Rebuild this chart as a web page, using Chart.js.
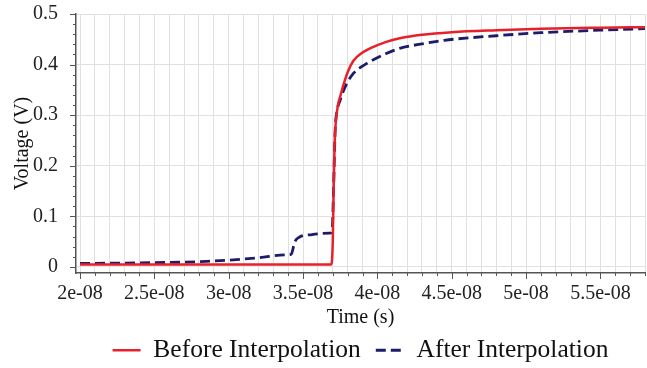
<!DOCTYPE html>
<html>
<head>
<meta charset="utf-8">
<script src="https://cdn.jsdelivr.net/npm/chart.js@4.4.1/dist/chart.umd.min.js"></script>
<style>
html, body { margin: 0; padding: 0; background: #fff; }
#wrap { width: 647px; height: 368px; }
</style>
</head>
<body>
<div id="wrap"><canvas id="chart"></canvas></div>
<script>
// time in seconds, voltage in volts
const beforeTime = [2.0e-8, 2.5e-8, 3.0e-8, 3.5e-8, 3.69e-8, 3.700e-8, 3.705e-8, 3.712e-8, 3.72e-8, 3.735e-8, 3.75e-8, 3.772e-8, 3.80e-8, 3.84e-8, 3.90e-8, 3.95e-8, 4.06e-8, 4.15e-8, 4.3e-8, 4.5e-8, 4.8e-8, 5.1e-8, 5.5e-8, 5.8e-8];
const beforeVolt = [0.005, 0.005, 0.005, 0.005, 0.005, 0.05, 0.14, 0.24, 0.285, 0.32, 0.337, 0.36, 0.385, 0.408, 0.424, 0.432, 0.445, 0.452, 0.459, 0.464, 0.468, 0.471, 0.473, 0.474];

const afterTime = [2.0e-8, 2.4e-8, 2.85e-8, 3.2e-8, 3.38e-8, 3.42e-8, 3.445e-8, 3.47e-8, 3.56e-8, 3.68e-8, 3.695e-8, 3.705e-8, 3.716e-8, 3.73e-8, 3.75e-8, 3.77e-8, 3.795e-8, 3.84e-8, 3.90e-8, 3.95e-8, 4.06e-8, 4.15e-8, 4.3e-8, 4.45e-8, 4.8e-8, 5.1e-8, 5.5e-8, 5.8e-8];
const afterVolt = [0.007, 0.008, 0.011, 0.018, 0.024, 0.025, 0.05, 0.058, 0.064, 0.067, 0.068, 0.15, 0.27, 0.31, 0.33, 0.347, 0.363, 0.383, 0.397, 0.406, 0.422, 0.432, 0.441, 0.448, 0.457, 0.463, 0.468, 0.471];

const xTickValues = [2e-8, 2.5e-8, 3e-8, 3.5e-8, 4e-8, 4.5e-8, 5e-8, 5.5e-8];
const xTickLabels = ['2e-08', '2.5e-08', '3e-08', '3.5e-08', '4e-08', '4.5e-08', '5e-08', '5.5e-08'];
const yTickValues = [0, 0.1, 0.2, 0.3, 0.4, 0.5];
const yTickLabels = ['0', '0.1', '0.2', '0.3', '0.4', '0.5'];

const serif = 'Liberation Serif';

// minor ticks: every 1e-9 s and every 0.02 V
let xMinor = [];
for (let i = 20; i <= 58; i++) xMinor.push(i * 1e-9);
let yMinor = [];
for (let i = 0; i <= 25; i++) yMinor.push(Math.round(i * 2) / 100);

let xMajorIndex = v => xTickValues.findIndex(t => Math.abs(t - v) < 1e-12);
let yMajorIndex = v => yTickValues.findIndex(t => Math.abs(t - v) < 1e-9);

// tick marks drawn by hand so that major ticks are longer than minor ones
let tickMarks = {
	id: 'tickMarks',
	afterDraw(chart) {
		let { ctx, scales: { x, y } } = chart;
		ctx.save();
		ctx.strokeStyle = '#555';
		ctx.lineWidth = 1;
		x.ticks.forEach(t => {
			let px = Math.round(x.getPixelForValue(t.value)) + 0.5;
			let len = xMajorIndex(t.value) >= 0 ? 6 : 3;
			ctx.beginPath();
			ctx.moveTo(px, x.top);
			ctx.lineTo(px, x.top + len);
			ctx.stroke();
		});
		y.ticks.forEach(t => {
			let py = Math.round(y.getPixelForValue(t.value)) + 0.5;
			let len = yMajorIndex(t.value) >= 0 ? 6 : 3;
			ctx.beginPath();
			ctx.moveTo(y.right - len, py);
			ctx.lineTo(y.right, py);
			ctx.stroke();
		});
		ctx.restore();
	}
};

let data = {
	datasets: [{
		label: 'Before Interpolation',
		data: beforeTime.map((t, i) => ({ x: t, y: beforeVolt[i] })),
		borderColor: '#e8202a',
		backgroundColor: '#e8202a',
		borderWidth: 2.5,
		pointRadius: 0,
		cubicInterpolationMode: 'monotone'
	}, {
		label: 'After Interpolation',
		data: afterTime.map((t, i) => ({ x: t, y: afterVolt[i] })),
		borderColor: '#1c1c6a',
		backgroundColor: '#1c1c6a',
		borderWidth: 2.8,
		borderDash: [10, 5],
		pointRadius: 0,
		cubicInterpolationMode: 'monotone'
	}]
};

let config = {
	type: 'line',
	data: data,
	plugins: [tickMarks],
	options: {
		responsive: false,
		animation: false,
		layout: { padding: { top: 14, right: 2, left: 0, bottom: -5 } },
		plugins: {
			tooltip: { enabled: false },
			legend: {
				position: 'bottom',
				fullSize: false,
				labels: {
					usePointStyle: true,
					pointStyleWidth: 28,
					padding: 15,
					color: '#111',
					font: { family: serif, size: 25.5 },
					generateLabels: chart => {
						let items = Chart.defaults.plugins.legend.labels.generateLabels(chart);
						items.forEach((item, i) => {
							let ds = chart.data.datasets[i];
							item.pointStyle = 'line';
							item.strokeStyle = ds.borderColor;
							item.lineWidth = ds.borderWidth;
							item.lineDash = ds.borderDash || [];
						});
						return items;
					}
				}
			}
		},
		scales: {
			x: {
				type: 'linear',
				min: 1.973e-8,
				max: 5.8e-8,
				afterBuildTicks: s => { s.ticks = xMinor.map(v => ({ value: v })); },
				afterFit: s => { s.height = 49.5; },
				ticks: {
					autoSkip: false,
					maxRotation: 0,
					padding: 0,
					color: '#222',
					font: { family: serif, size: 20 },
					callback: v => { let i = xMajorIndex(v); return i >= 0 ? xTickLabels[i] : ''; }
				},
				grid: { color: '#e0e0e0', drawTicks: true, tickLength: 9, tickColor: 'rgba(0,0,0,0)' },
				border: { color: '#555', width: 1.5 },
				title: { display: true, text: 'Time (s)', color: '#111', font: { family: serif, size: 20 }, padding: { top: 0, bottom: -7 } }
			},
			y: {
				min: -0.012,
				max: 0.5,
				afterBuildTicks: s => { s.ticks = yMinor.map(v => ({ value: v })); },
				afterFit: s => { s.width = 76; },
				ticks: {
					autoSkip: false,
					padding: 0,
					color: '#222',
					font: { family: serif, size: 20 },
					callback: v => { let i = yMajorIndex(v); return i >= 0 ? yTickLabels[i] : ''; }
				},
				grid: {
					drawTicks: true,
					tickLength: 18,
					tickColor: 'rgba(0,0,0,0)',
					color: c => (c.tick && yMajorIndex(c.tick.value) >= 0) ? '#e0e0e0' : 'rgba(0,0,0,0)'
				},
				border: { color: '#555', width: 1.5 },
				title: { display: true, text: 'Voltage (V)', color: '#111', font: { family: serif, size: 20 }, padding: { top: 11, bottom: 0 } }
			}
		}
	}
};

let canvas = document.getElementById('chart');
canvas.width = 647;
canvas.height = 368;
let myChart = new Chart(canvas, config);
</script>
</body>
</html>
